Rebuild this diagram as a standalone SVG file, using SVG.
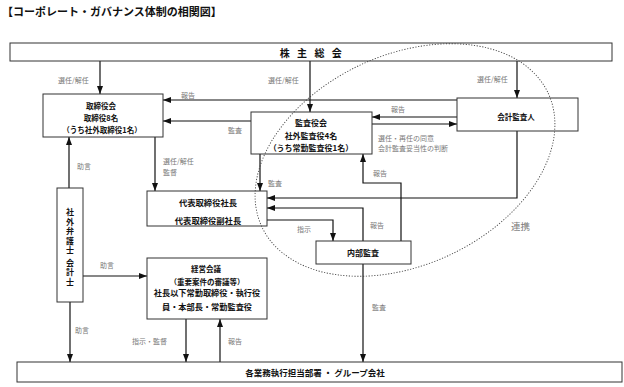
<svg xmlns="http://www.w3.org/2000/svg" width="624" height="387" viewBox="0 0 624 387">
<style>
.box{fill:#fff;stroke:#333;stroke-width:1}
.t{font-family:"Noto Sans CJK JP","Noto Sans",sans-serif;font-weight:bold;fill:#111;text-anchor:middle;dominant-baseline:central}
.lbl{font-family:"Noto Sans CJK JP","Noto Sans",sans-serif;fill:#7a7a7a;font-size:7px;dominant-baseline:central}
.ln{fill:none;stroke:#111;stroke-width:1.2}
.arr{marker-end:url(#ah)}
</style>
<defs>
<marker id="ah" viewBox="0 0 8 6" markerWidth="8" markerHeight="6" refX="8" refY="3" orient="auto" markerUnits="userSpaceOnUse">
<path d="M0,0 L8,3 L0,6 z" fill="#111"/>
</marker>
</defs>
<rect width="624" height="387" fill="#fff"/>
<text x="2" y="11" class="t" style="text-anchor:start;font-size:11px">【コーポレート・ガバナンス体制の相関図】</text>

<g id="connectors">
<path class="ln arr" d="M100,61 V94"/>
<path class="ln arr" d="M310,61 V112"/>
<path class="ln arr" d="M517,61 V98"/>
<path class="ln arr" d="M457,100 H163"/>
<path class="ln arr" d="M251,121 H163"/>
<path class="ln arr" d="M457,117 H372"/>
<path class="ln arr" d="M372,124 H457"/>
<path class="ln arr" d="M155,137 V191"/>
<path class="ln arr" d="M260,154 V191"/>
<path class="ln arr" d="M517,131 V198 H267"/>
<path class="ln arr" d="M363,241 V208 H267"/>
<path class="ln arr" d="M401,241 V183 H363 V154"/>
<path class="ln arr" d="M267,220 H333 V241"/>
<path class="ln arr" d="M363,264 V362"/>
<path class="ln arr" d="M69,188 V137"/>
<path class="ln arr" d="M83,276 H147"/>
<path class="ln arr" d="M70,302 V362"/>
<path class="ln arr" d="M186,319 V362"/>
<path class="ln arr" d="M220,362 V319"/>
</g>

<g id="labels">
<text class="lbl" x="58" y="80">選任/解任</text>
<text class="lbl" x="268" y="80">選任/解任</text>
<text class="lbl" x="477" y="79">選任/解任</text>
<text class="lbl" x="181" y="95">報告</text>
<text class="lbl" x="391" y="109">報告</text>
<text class="lbl" x="228" y="130">監査</text>
<text class="lbl" x="378" y="138">選任・再任の同意</text>
<text class="lbl" x="378" y="148">会計監査妥当性の判断</text>
<text class="lbl" x="163" y="161">選任/解任</text>
<text class="lbl" x="163" y="172">監督</text>
<text class="lbl" x="77" y="166">助言</text>
<text class="lbl" x="268" y="183">監査</text>
<text class="lbl" x="373" y="173">報告</text>
<text class="lbl" x="370" y="225">報告</text>
<text class="lbl" x="297" y="229">指示</text>
<text class="lbl" x="511" y="226" style="font-size:9.5px">連携</text>
<text class="lbl" x="100" y="265">助言</text>
<text class="lbl" x="75" y="330">助言</text>
<text class="lbl" x="132" y="341">指示・監督</text>
<text class="lbl" x="228" y="341">報告</text>
<text class="lbl" x="372" y="307">監査</text>
</g>

<g id="shareholders">
<rect class="box" x="10" y="43" width="602" height="18"/>
<text class="t" x="312" y="52" style="font-size:10px;letter-spacing:2.5px">株 主 総 会</text>
</g>

<g id="board">
<rect class="box" x="43" y="94" width="120" height="43"/>
<text class="t" x="101" y="105" style="font-size:7.5px">取締役会</text>
<text class="t" x="101" y="117" style="font-size:7.5px">取締役8名</text>
<text class="t" x="102" y="129.5" style="font-size:7.5px">（うち社外取締役1名）</text>
</g>

<g id="auditors">
<rect class="box" x="251" y="112" width="121" height="42"/>
<text class="t" x="311" y="122" style="font-size:8px">監査役会</text>
<text class="t" x="311" y="135" style="font-size:8px">社外監査役4名</text>
<text class="t" x="311" y="147" style="font-size:8px">（うち常勤監査役1名）</text>
</g>

<g id="accounting-auditor">
<rect class="box" x="457" y="98" width="121" height="33"/>
<text class="t" x="516" y="116" style="font-size:7.5px">会計監査人</text>
</g>

<g id="president">
<rect class="box" x="147" y="191" width="120" height="35"/>
<text class="t" x="208" y="202" style="font-size:8.3px">代表取締役社長</text>
<text class="t" x="208" y="219.5" style="font-size:8.3px">代表取締役副社長</text>
</g>

<g id="internal-audit">
<rect class="box" x="316" y="241" width="95" height="23"/>
<text class="t" x="363" y="252.5" style="font-size:8px">内部監査</text>
</g>

<g id="advisors">
<rect class="box" x="57" y="188" width="26" height="114"/>
<text x="70" y="208" writing-mode="vertical-rl" style="font-family:'Noto Sans CJK JP',sans-serif;font-weight:bold;font-size:8px;letter-spacing:1.5px;fill:#111">社外弁護士 会計士</text>
</g>

<g id="management-meeting">
<rect class="box" x="147" y="258" width="120" height="61"/>
<text class="t" x="206" y="268.5" style="font-size:7.5px">経営会議</text>
<text class="t" x="207" y="281" style="font-size:7.5px">（重要案件の審議等）</text>
<text class="t" x="207" y="292" style="font-size:8.2px">社長以下常勤取締役・執行役</text>
<text class="t" x="207" y="305.5" style="font-size:8.2px">員・本部長・常勤監査役</text>
</g>

<g id="departments">
<rect class="box" x="17" y="362" width="605" height="20"/>
<text class="t" x="315" y="372" style="font-size:8.5px">各業務執行担当部署 ・ グループ会社</text>
</g>

<ellipse cx="405" cy="160" rx="158" ry="105" transform="rotate(-25 405 160)" fill="none" stroke="#444" stroke-width="0.9" stroke-dasharray="1.2 1.6"/>
</svg>
